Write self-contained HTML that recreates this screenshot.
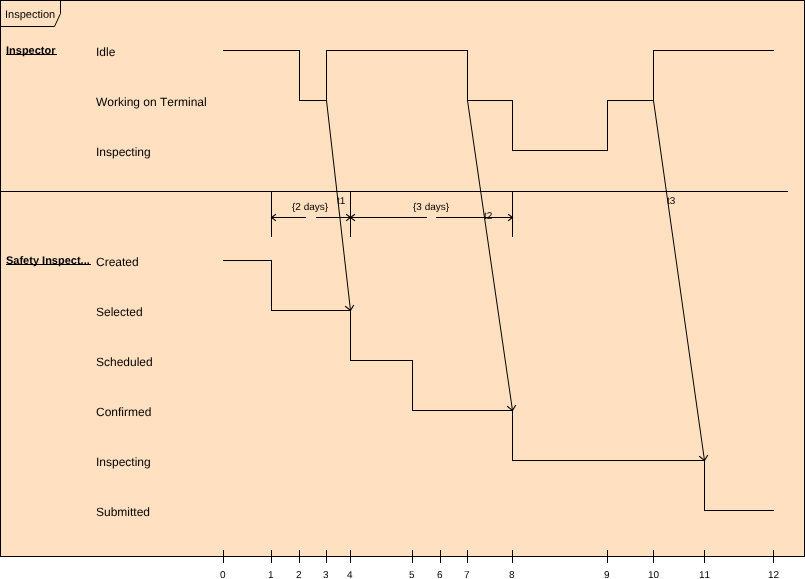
<!DOCTYPE html>
<html lang="en">
<head>
<meta charset="utf-8">
<title>Inspection</title>
<style>
html,body{margin:0;padding:0;background:#fff;}
body{width:805px;height:579px;overflow:hidden;}
svg{display:block;}
text{font-kerning:none;text-rendering:geometricPrecision;}
</style>
</head>
<body>
<svg width="805" height="579" viewBox="0 0 805 579">
<rect x="0.5" y="0.5" width="804" height="556" fill="#FFE0C0" stroke="#000" stroke-width="1"/>
<path d="M0.5 26.5 H54.5 L60.5 13.5 V0.5" fill="none" stroke="#000" stroke-width="1"/>
<g fill="#000" shape-rendering="crispEdges"><rect x="0" y="191" width="788" height="1"/><rect x="223" y="50" width="77" height="1"/><rect x="299" y="50" width="1" height="51"/><rect x="299" y="100" width="28" height="1"/><rect x="326" y="50" width="1" height="51"/><rect x="326" y="50" width="142" height="1"/><rect x="467" y="50" width="1" height="51"/><rect x="467" y="100" width="46" height="1"/><rect x="512" y="100" width="1" height="51"/><rect x="512" y="150" width="96" height="1"/><rect x="607" y="100" width="1" height="51"/><rect x="607" y="100" width="47" height="1"/><rect x="653" y="50" width="1" height="51"/><rect x="653" y="50" width="121" height="1"/><rect x="223" y="260" width="49" height="1"/><rect x="271" y="260" width="1" height="51"/><rect x="271" y="310" width="80" height="1"/><rect x="350" y="310" width="1" height="51"/><rect x="350" y="360" width="63" height="1"/><rect x="412" y="360" width="1" height="51"/><rect x="412" y="410" width="101" height="1"/><rect x="512" y="410" width="1" height="51"/><rect x="512" y="460" width="193" height="1"/><rect x="704" y="460" width="1" height="51"/><rect x="704" y="510" width="70" height="1"/><rect x="271" y="191" width="1" height="46"/><rect x="350" y="191" width="1" height="46"/><rect x="512" y="191" width="1" height="46"/><rect x="271" y="217" width="35" height="1"/><rect x="316" y="217" width="35" height="1"/><rect x="350" y="217" width="77" height="1"/><rect x="436" y="217" width="77" height="1"/><rect x="223" y="550" width="1" height="13"/><rect x="271" y="550" width="1" height="13"/><rect x="299" y="550" width="1" height="13"/><rect x="326" y="550" width="1" height="13"/><rect x="350" y="550" width="1" height="13"/><rect x="412" y="550" width="1" height="13"/><rect x="440" y="550" width="1" height="13"/><rect x="467" y="550" width="1" height="13"/><rect x="512" y="550" width="1" height="13"/><rect x="607" y="550" width="1" height="13"/><rect x="653" y="550" width="1" height="13"/><rect x="704" y="550" width="1" height="13"/><rect x="773" y="550" width="1" height="13"/></g>
<g fill="none" stroke="#000" stroke-width="1"><path d="M275.5 214.5 L271.5 217.5 L275.5 220.5" stroke-width="1.1" stroke-linecap="square"/><path d="M346.5 214.5 L350.5 217.5 L346.5 220.5" stroke-width="1.1" stroke-linecap="square"/><path d="M354.5 214.5 L350.5 217.5 L354.5 220.5" stroke-width="1.1" stroke-linecap="square"/><path d="M508.5 214.5 L512.5 217.5 L508.5 220.5" stroke-width="1.1" stroke-linecap="square"/><path d="M326.5 100.5 L350.5 310.5"/><path d="M345.5 306.5 L350.5 310.5 L353.5 305.5" stroke-width="1.1" stroke-linecap="square"/><path d="M467.5 100.5 L512.5 410.5"/><path d="M507.5 406.5 L512.5 410.5 L515.5 405.5" stroke-width="1.1" stroke-linecap="square"/><path d="M653.5 100.5 L704.5 460.5"/><path d="M699.5 456.5 L704.5 460.5 L707.5 455.5" stroke-width="1.1" stroke-linecap="square"/></g>
<g fill="#000" font-family="'Liberation Sans', sans-serif"><text x="5" y="18" font-size="11">Inspection</text><text x="6" y="54" font-size="11" font-weight="bold">Inspector</text><rect x="6" y="54" width="51" height="1" shape-rendering="crispEdges"/><text x="6" y="264" font-size="11" font-weight="bold">Safety Inspect...</text><rect x="6" y="264" width="85" height="1" shape-rendering="crispEdges"/><text x="96" y="56" font-size="12">Idle</text><text x="96" y="106" font-size="12">Working on Terminal</text><text x="96" y="156" font-size="12">Inspecting</text><text x="96" y="266" font-size="12">Created</text><text x="96" y="316" font-size="12">Selected</text><text x="96" y="366" font-size="12">Scheduled</text><text x="96" y="416" font-size="12">Confirmed</text><text x="96" y="466" font-size="12">Inspecting</text><text x="96" y="516" font-size="12">Submitted</text><text x="292" y="210" font-size="10">{2 days}</text><text x="413" y="210" font-size="10">{3 days}</text><text x="337" y="204" font-size="10">t1</text><text x="484" y="219" font-size="10">t2</text><text x="667" y="204" font-size="10">t3</text><text x="220" y="578" font-size="10">0</text><text x="268" y="578" font-size="10">1</text><text x="296" y="578" font-size="10">2</text><text x="323" y="578" font-size="10">3</text><text x="347" y="578" font-size="10">4</text><text x="409" y="578" font-size="10">5</text><text x="437" y="578" font-size="10">6</text><text x="464" y="578" font-size="10">7</text><text x="509" y="578" font-size="10">8</text><text x="604" y="578" font-size="10">9</text><text x="648" y="578" font-size="10">10</text><text x="699" y="578" font-size="10">11</text><text x="768" y="578" font-size="10">12</text></g>
</svg>
</body>
</html>
